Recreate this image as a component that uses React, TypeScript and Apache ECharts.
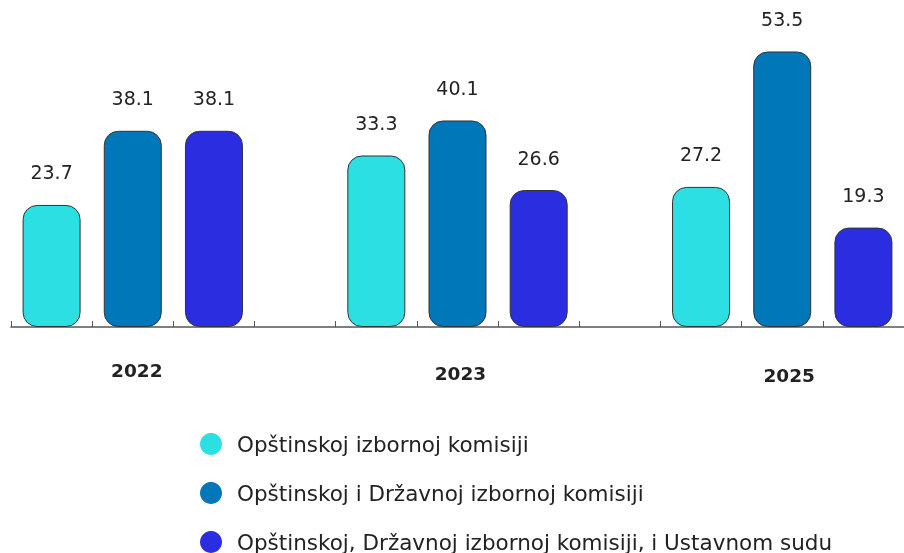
import React, { useEffect, useRef } from "react";
import * as echarts from "echarts";

const years = ["2022", "2023", "2025"];
const seriesNames = [
  "Opštinskoj izbornoj komisiji",
  "Opštinskoj i Državnoj izbornoj komisiji",
  "Opštinskoj, Državnoj izbornoj komisiji, i Ustavnom sudu",
];
const municipal = [23.7, 33.3, 27.2];
const municipalState = [38.1, 40.1, 53.5];
const municipalStateCourt = [38.1, 26.6, 19.3];
const colors = ["#2BDFE2", "#0077B8", "#2B2EE0"];

// slots: 3 bars per year, one empty slot between groups
const slotCount = years.length * 4 - 1;
const categories: string[] = Array.from({ length: slotCount }, (_, i) =>
  i % 4 === 1 ? years[Math.floor(i / 4)] : ""
);

function seriesData(values: number[], offset: number) {
  const arr: (number | string)[] = Array.from({ length: slotCount }, () => "-");
  values.forEach((v, g) => {
    arr[g * 4 + offset] = v;
  });
  return arr;
}

const allValues = [municipal, municipalState, municipalStateCourt];

export default function App() {
  const ref = useRef<HTMLDivElement>(null);
  useEffect(() => {
    if (!ref.current) return;
    const chart = echarts.init(ref.current, undefined, { renderer: "svg" });
    const font = "DejaVu Sans";
    chart.setOption({
      animation: false,
      textStyle: { fontFamily: font },
      grid: { left: 11, width: 894, top: 18, bottom: 226, containLabel: false },
      xAxis: {
        type: "category",
        data: categories,
        axisLine: { lineStyle: { color: "#555", width: 1.5 } },
        axisTick: { show: true, interval: 0, inside: true, length: 6, lineStyle: { color: "#555", width: 1 } },
        axisLabel: {
          interval: 0,
          margin: 34,
          formatter: (v: string) => {
            const idx = years.indexOf(v);
            return idx < 0 ? "" : `{y${idx}|${v}}`;
          },
          rich: {
            y0: { fontFamily: font, fontSize: 18.5, fontWeight: "bold", color: "#222", padding: [0, 0, 0, 8] },
            y1: { fontFamily: font, fontSize: 18.5, fontWeight: "bold", color: "#222", padding: [3, 0, 0, 6] },
            y2: { fontFamily: font, fontSize: 18.5, fontWeight: "bold", color: "#222", padding: [5, 0, 0, 14] },
          },
        },
      },
      yAxis: { type: "value", min: 0, max: 60, show: false },
      legend: {
        orient: "vertical",
        left: 200,
        top: 433,
        padding: 0,
        height: 125,
        itemWidth: 22,
        itemHeight: 22,
        itemGap: 27,
        icon: "circle",
        itemStyle: { borderWidth: 0 },
        textStyle: { fontFamily: font, fontSize: 21.5, color: "#222", padding: [0, 0, 0, 10] },
        data: seriesNames,
      },
      series: allValues.map((vals, i) => ({
        name: seriesNames[i],
        type: "bar",
        data: seriesData(vals, i),
        barWidth: 58,
        barGap: "-100%",
        itemStyle: { color: colors[i], borderColor: "#333", borderWidth: 1, borderRadius: 14 },
        label: {
          show: true,
          position: "top",
          distance: 23,
          fontFamily: font,
          fontSize: 19,
          color: "#222",
        },
      })),
    });
    return () => chart.dispose();
  }, []);
  return <div ref={ref} style={{ position: "fixed", left: 0, top: 0, width: 904, height: 553 }} />;
}
